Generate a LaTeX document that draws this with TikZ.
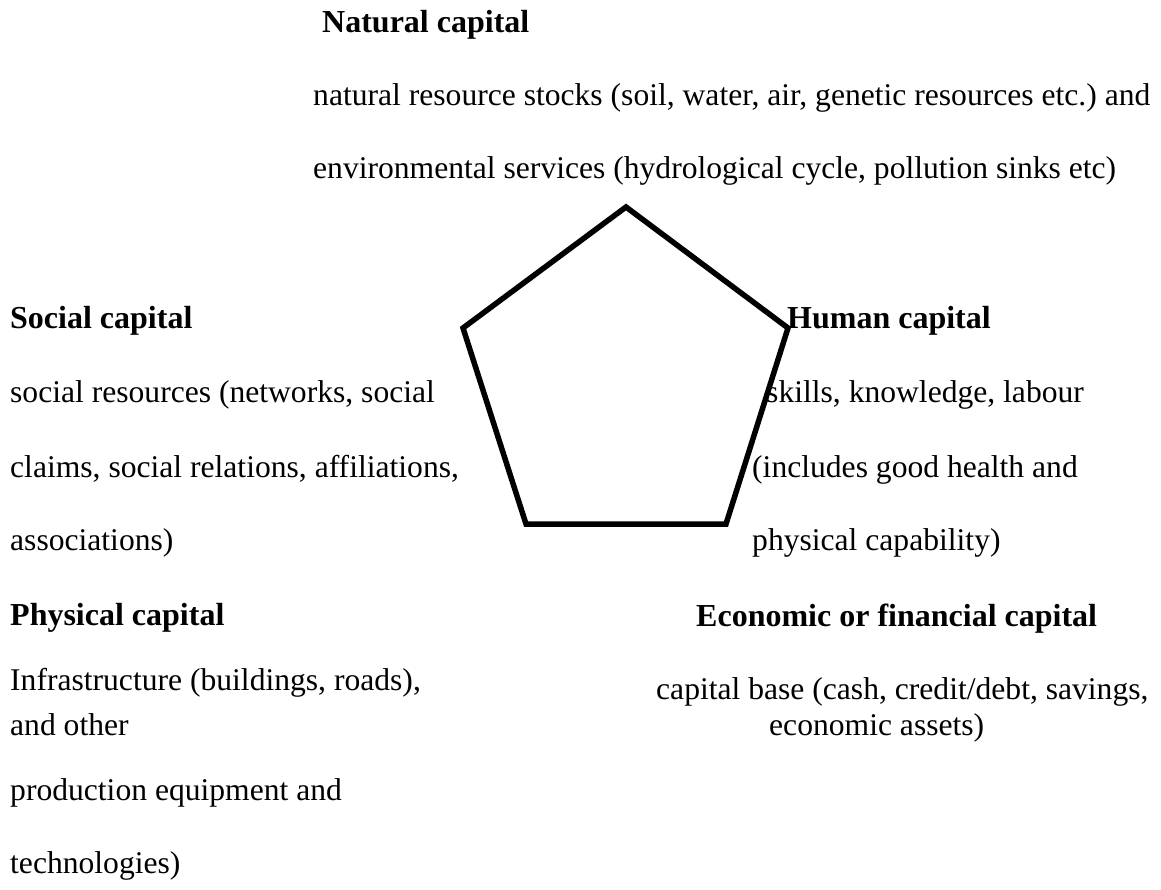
\documentclass[tikz,border=0pt]{standalone}
\usepackage{fontspec}
\setmainfont{Liberation Serif}
\usetikzlibrary{positioning}
\frenchspacing

\tikzset{
    head/.style={anchor=base west, inner sep=0pt, font=\fontsize{32}{38}\selectfont\bfseries},
    body/.style={anchor=base west, inner sep=0pt, font=\fontsize{31.6}{38}\selectfont},
    edge/.style={line width=5.5pt}
}

\begin{document}
\begin{tikzpicture}[x=1pt, y=-1pt]
    \useasboundingbox (0,0) rectangle (1161,890);

    % pentagon
    \coordinate (P1) at (626,207);
    \coordinate (P2) at (788,328);
    \coordinate (P3) at (726,524);
    \coordinate (P4) at (526,524);
    \coordinate (P5) at (463,328);
    \draw[edge] (P1) -- (P2) -- (P3) -- (P4) -- (P5) -- cycle;

    % natural
    \node[head] (nat) at (322,33) {Natural capital};
    \node[body] (nat1) at (313,106) {natural resource stocks (soil, water, air, genetic resources etc.) and};
    \node[body] (nat2) at (313,179) {environmental services (hydrological cycle, pollution sinks etc)};

    % social
    \node[head] (soc) at (10,328) {Social capital};
    \node[body] (soc1) at (10,402) {social resources (networks, social};
    \node[body] (soc2) at (10,477) {claims, social relations, affiliations,};
    \node[body] (soc3) at (10,550) {associations)};

    % human
    \node[head] (hum) at (787,328) {Human capital};
    \node[body] (hum1) at (766,402) {skills, knowledge, labour};
    \node[body] (hum2) at (752,477) {(includes good health and};
    \node[body] (hum3) at (752,550) {physical capability)};

    % physical
    \node[head] (phy) at (10,625) {Physical capital};
    \node[body] (phy1) at (10,690) {Infrastructure (buildings, roads),};
    \node[body] (phy2) at (10,735) {and other};
    \node[body] (phy3) at (10,800) {production equipment and};
    \node[body] (phy4) at (10,873) {technologies)};

    % economic
    \node[head] (eco) at (696,626) {Economic or financial capital};
    \node[body] (eco1) at (656,699) {capital base (cash, credit/debt, savings,};
    \node[body] (eco2) at (769,735) {economic assets)};
\end{tikzpicture}
\end{document}
